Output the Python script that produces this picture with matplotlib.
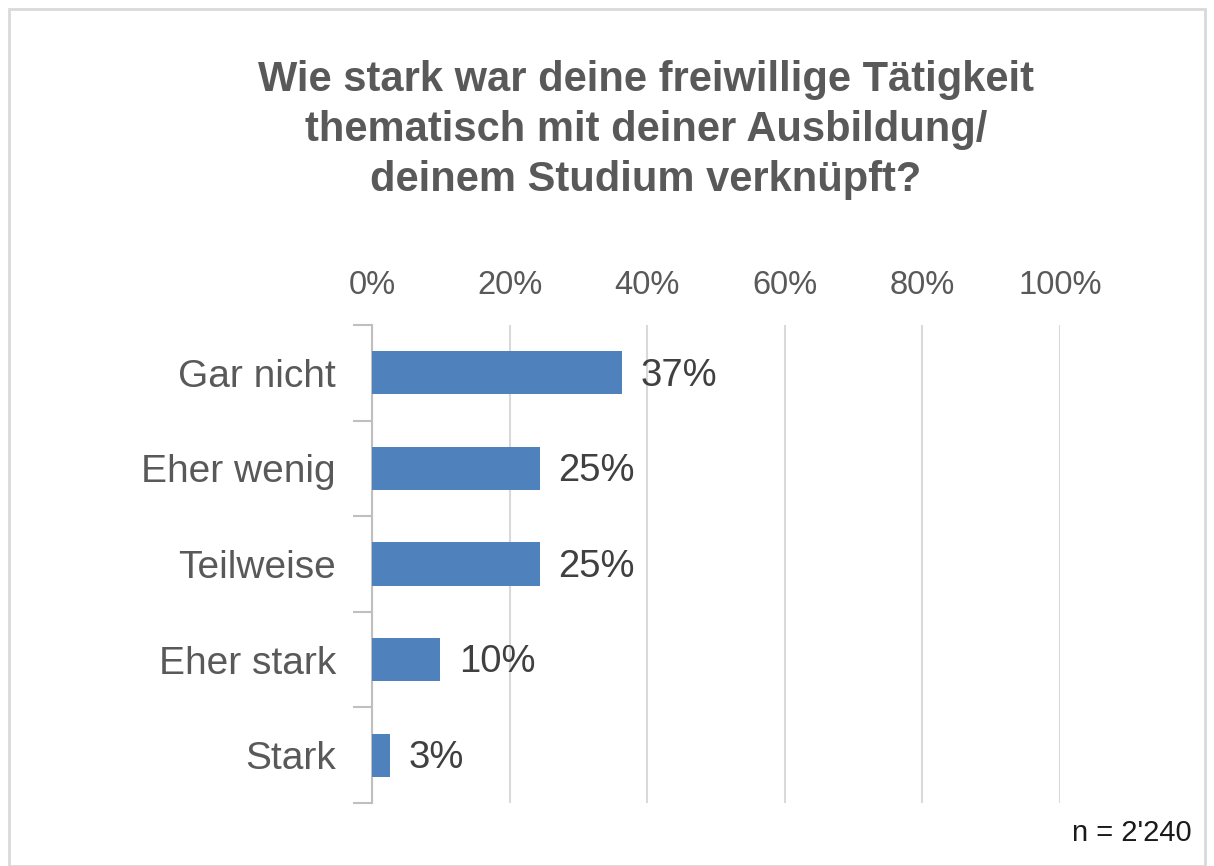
import matplotlib
matplotlib.use("Agg")
import matplotlib.pyplot as plt
import numpy as np

categories = ["Gar nicht", "Eher wenig", "Teilweise", "Eher stark", "Stark"]
values = [36.4, 24.4, 24.4, 9.9, 2.6]
value_labels = ["37%", "25%", "25%", "10%", "3%"]
xticks = [0, 20, 40, 60, 80, 100]
xtick_labels = ["0%", "20%", "40%", "60%", "80%", "100%"]
title = "Wie stark war deine freiwillige Tätigkeit\nthematisch mit deiner Ausbildung/\ndeinem Studium verknüpft?"
note = "n = 2'240"

plt.rcParams['font.family'] = ['Liberation Sans', 'DejaVu Sans']

fig = plt.figure(figsize=(12.14, 8.66), dpi=100)
ax = fig.add_axes([372/1214, 1-803/866, (1060-372)/1214, (803-325)/866])

y = np.arange(len(categories))
ax.barh(y, values, height=0.45, color="#4f81bd", zorder=3)
for yi, v, lab in zip(y, values, value_labels):
    ax.text(v + 2.7, yi + 0.03, lab, va="center", ha="left", fontsize=27.5, color="#404040")

ax.set_xlim(0, 100)
ax.set_ylim(len(categories) - 0.5, -0.5)
ax.set_xticks(xticks)
ax.set_xticklabels(xtick_labels, fontsize=23.5, color="#595959")
ax.xaxis.tick_top()
ax.tick_params(axis="x", length=0, pad=17)
ax.set_yticks(y)
ax.set_yticklabels(categories, fontsize=28, color="#595959")
ax.tick_params(axis="y", which="major", length=0, pad=26)
ax.set_yticks(np.arange(-0.5, len(categories), 1), minor=True)
ax.tick_params(axis="y", which="minor", length=14, width=1.5, color="#bfbfbf")
ax.grid(axis="x", color="#d9d9d9", linewidth=1.5, zorder=0)
for s in ["top", "right", "bottom"]:
    ax.spines[s].set_visible(False)
ax.spines["left"].set_color("#bfbfbf")
ax.spines["left"].set_linewidth(1.5)

fig.text(646/1214, 1-130/866, title, ha="center", va="center", fontsize=30,
         fontweight="bold", color="#595959", linespacing=1.33)
fig.text(1192/1214, 1-833/866, note, ha="right", va="center", fontsize=21, color="#1a1a1a")

border = plt.Rectangle((9/1214, 0), 1-18/1214, 1-9/866, transform=fig.transFigure,
                       fill=False, edgecolor="#d9d9d9", linewidth=2)
fig.patches.append(border)

fig.savefig("out.png", dpi=100)
